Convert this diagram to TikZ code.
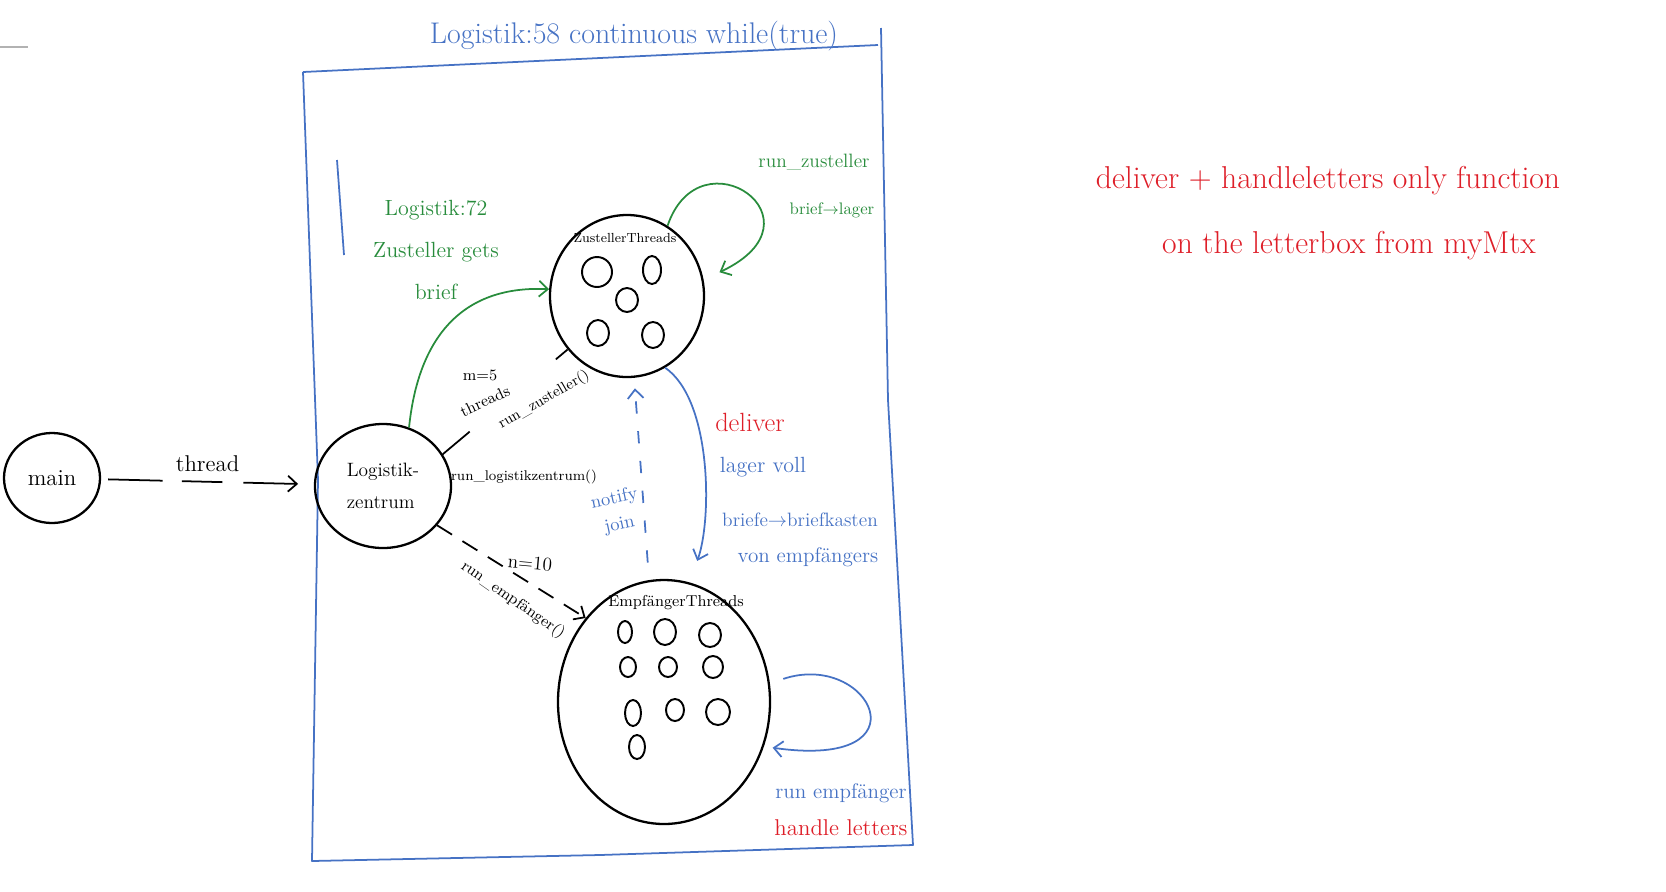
\documentclass[tikz,border=0pt]{standalone}
\usetikzlibrary{shapes.geometric,arrows.meta}

\definecolor{penblue}{RGB}{70,114,196}
\definecolor{pengreen}{RGB}{40,140,60}
\definecolor{penred}{RGB}{222,30,40}

\newcommand{\penfont}[2]{\fontsize{#1}{#2}\selectfont}

\tikzset{
	>={Straight Barb[length=5pt,width=9pt]},
	blob/.style={draw,ellipse,line width=1.3pt,inner sep=0pt,align=center},
	seed/.style={line width=1.1pt},
	pen/.style={line width=1pt},
	note/.style={inner sep=1pt,align=center},
}

\begin{document}
\begin{tikzpicture}[x=0.2mm,y=-0.2mm]

		\useasboundingbox (0,0) rectangle (1666,891);

		\draw [gray!60,line width=1pt] (0,47)--(28,47);

		% the loop box
		\draw [penblue,pen,line join=round] (303,72)--(600,58)--(878,45);
		\draw [penblue,pen,line join=round] (881,28)--(888,400)--(913,845)--(600,855)--(312,861)--(318,480)--(303,72);
		\draw [penblue,pen] (337,160)--(344,255);
		\node (title) at (634,36) [note,penblue,font=\penfont{17}{20}] {Logistik:58 continuous while(true)};

		\node (main) at (52,478) [blob,minimum width=19.2mm,minimum height=18mm,font=\penfont{13}{15}] {main};
		\node (logi) at (383,486) [blob,align=left,minimum width=27.2mm,minimum height=24.8mm,font=\penfont{11}{18}] {Logistik-\\zentrum};

		\node (zust) at (627,296) [blob,minimum width=30.8mm,minimum height=32.4mm] {};
		\node (zustlabel) at (625,238) [font=\penfont{7.5}{9}] {ZustellerThreads};
		\foreach \x/\y/\a/\b in {597/272/15/15,652/270/9/14,627/300/11/12,598/333/11/13,653/335/11/13}
			\draw [seed] (\x,\y) ellipse [x radius=\a,y radius=\b];

		\node (empf) at (664,702) [blob,minimum width=42.4mm,minimum height=48.8mm] {};
		\node (empflabel) at (676,603) [font=\penfont{9}{11}] {EmpfängerThreads};
		\foreach \x/\y/\a/\b in {625/632/7/11,665/632/11/13,710/635/11/12,628/667/8/10,668/667/9/10,713/667/10/11,633/713/8/13,675/710/9/11,718/712/12/13,637/747/8/12}
			\draw [seed] (\x,\y) ellipse [x radius=\a,y radius=\b];

		\draw [pen,->,dash pattern=on 31pt off 11pt on 23pt off 12pt on 31pt,shorten <=4pt,shorten >=9pt] (main)--(logi)
			node (threadlabel) [midway,above=2pt,font=\penfont{13}{15}] {thread};

		\draw [pen,dash pattern=on 20pt off 64pt on 12pt] (logi.28)--(zust.222);
		\node (mlabel) at (480,375) [font=\penfont{9}{11}] {m=5};
		\node (threadslabel) at (485,401) [rotate=25,font=\penfont{9}{11}] {threads};
		\node (runzustlabel) at (544,400) [rotate=30,font=\penfont{8.5}{10}] {run\_zusteller()};
		\node (runlogilabel) at (524,477) [font=\penfont{8}{10}] {run\_logistikzentrum()};

		\draw [pen,->,dash pattern=on 10pt off 7pt] (logi.-36)--(empf.133);
		\node (nlabel) at (530,563) [rotate=-5,font=\penfont{11}{13}] {n=10};
		\node (runempflabel) at (513,600) [rotate=-35,font=\penfont{9}{11}] {run\_empfänger()};

		\draw [pen,pengreen,->] (logi.66) .. controls (418,340) and (460,285) .. (zust.175);
		\node (greennote) at (436,250) [note,pengreen,font=\penfont{12.5}{24}] {Logistik:72\\Zusteller gets\\brief};

		\draw [pen,pengreen,->,shorten >=10pt] (zust.60) .. controls (700,130) and (830,220) .. (zust.12);
		\node (zustloop) at (814,162) [pengreen,font=\penfont{11}{13}] {run\_zusteller};
		\node (zustloop2) at (832,210) [pengreen,font=\penfont{9.5}{11}] {brief$\rightarrow$lager};

		\draw [pen,penblue,->,shorten >=13pt] (zust.-62) .. controls (712,400) and (712,520) .. (empf.78);
		\draw [pen,penblue,->,dash pattern=on 7pt off 10pt,shorten <=10pt,shorten >=6pt] (empf.97)--(zust.-85);
		\node (notifylabel) at (617,512) [note,penblue,rotate=12,font=\penfont{10.5}{15}] {notify\\join};

		\node (deliver) at (750,422) [penred,font=\penfont{15}{17}] {deliver};
		\node (lager) at (763,467) [penblue,font=\penfont{12.5}{15}] {lager voll};
		\node (briefe) at (800,520) [penblue,font=\penfont{11}{13}] {briefe$\rightarrow$briefkasten};
		\node (vonempf) at (808,557) [penblue,font=\penfont{12}{14}] {von empfängers};

		\draw [pen,penblue,->,shorten <=8pt,shorten >=5pt] (empf.10) .. controls (870,650) and (930,770) .. (empf.-24);
		\node (empfloop) at (841,793) [penblue,font=\penfont{12}{14}] {run empfänger};
		\node (handle) at (841,828) [penred,font=\penfont{13}{15}] {handle letters};

		\node (side1) at (1328,181) [penred,font=\penfont{18}{20}] {deliver + handleletters only function};
		\node (side2) at (1349,246) [penred,font=\penfont{18}{20}] {on the letterbox from myMtx};

	\end{tikzpicture}
\end{document}
